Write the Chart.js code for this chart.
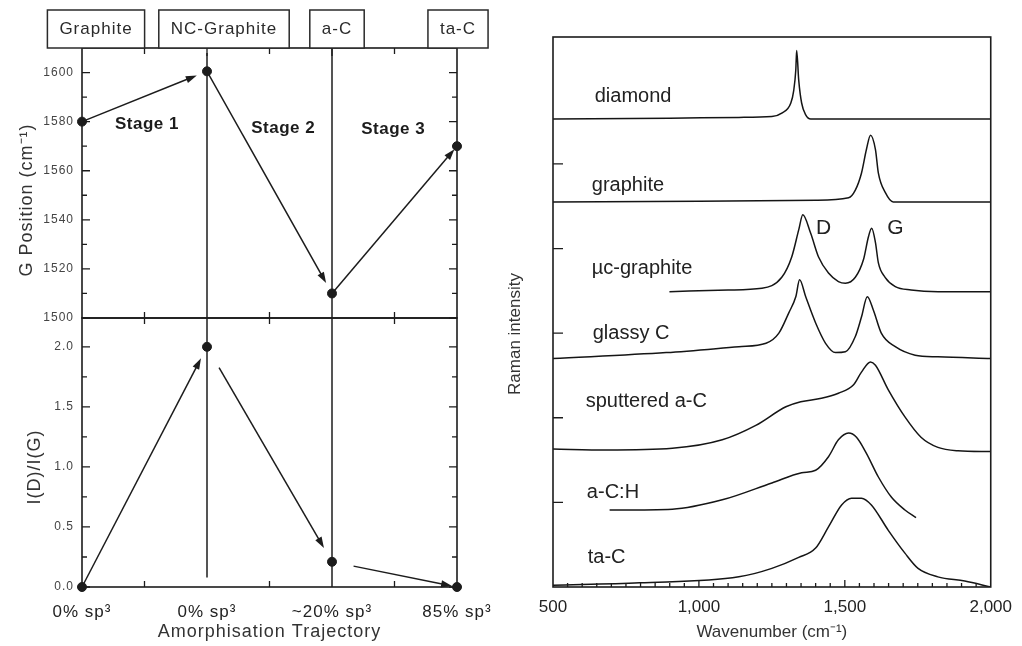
<!DOCTYPE html>
<html>
<head>
<meta charset="utf-8">
<script src="https://cdn.jsdelivr.net/npm/chart.js@4.4.1/dist/chart.umd.min.js"></script>
<style>
  html, body { margin: 0; padding: 0; background: #fff; }
  #wrap { position: relative; width: 1022px; height: 646px; overflow: hidden; }
  canvas { position: absolute; }
  #g-chart { left: 0; top: 0; }
  #ratio-chart { left: 0; top: 302px; }
  #raman-chart { left: 500px; top: 0; }
</style>
</head>
<body>
<div id="wrap">
  <canvas id="g-chart" width="512" height="334"></canvas>
  <canvas id="ratio-chart" width="512" height="344"></canvas>
  <canvas id="raman-chart" width="522" height="646"></canvas>
</div>
<script>
const FONT = "'Liberation Sans', Arial, sans-serif";
const INK = '#1c1c1c';

// --- amorphisation trajectory ---
const stageNames = ['Graphite', 'NC-Graphite', 'a-C', 'ta-C'];
const sp3Labels = ['0% sp³', '0% sp³', '~20% sp³', '85% sp³'];
const stagePos = [0, 1, 2, 3];
const gPosition = [1580, 1600.5, 1510, 1570];
const idIgRatio = [0, 2.0, 0.21, 0];
const stageTitles = ['Stage 1', 'Stage 2', 'Stage 3'];

// --- Raman spectra: [wavenumber, offset intensity] ---
const diamond = [[500, 5.53], [900, 5.54], [1137, 5.55], [1250, 5.56], [1284, 5.60], [1315, 5.72],
  [1325, 5.87], [1332, 6.11], [1335, 6.34], [1342, 5.99], [1352, 5.72], [1366, 5.58], [1383, 5.53], [2000, 5.53]];
const graphite = [[500, 4.55], [1000, 4.56], [1400, 4.57], [1513, 4.60], [1536, 4.69], [1557, 4.89],
  [1574, 5.17], [1588, 5.34], [1605, 5.17], [1615, 4.89], [1639, 4.66], [1666, 4.55], [2000, 4.55]];
const ucGraphite = [[899, 3.49], [1100, 3.51], [1216, 3.53], [1284, 3.66], [1318, 3.90], [1342, 4.22],
  [1356, 4.40], [1383, 4.18], [1410, 3.90], [1444, 3.71], [1478, 3.61], [1502, 3.59], [1536, 3.66],
  [1564, 3.87], [1581, 4.14], [1592, 4.24], [1605, 4.07], [1615, 3.83], [1638, 3.66], [1673, 3.55],
  [1727, 3.51], [1820, 3.49], [2000, 3.49]];
const glassyC = [[500, 2.70], [888, 2.77], [1137, 2.84], [1230, 2.88], [1274, 3.00], [1308, 3.24],
  [1332, 3.43], [1345, 3.63], [1366, 3.43], [1400, 3.12], [1434, 2.88], [1468, 2.77], [1502, 2.78],
  [1536, 2.96], [1557, 3.19], [1577, 3.43], [1598, 3.27], [1625, 3.00], [1673, 2.84], [1741, 2.74],
  [1819, 2.72], [2000, 2.70]];
const sputteredAC = [[500, 1.63], [684, 1.62], [909, 1.64], [1080, 1.74], [1195, 1.91], [1298, 2.13],
  [1349, 2.19], [1420, 2.23], [1478, 2.29], [1530, 2.39], [1557, 2.54], [1588, 2.66], [1605, 2.62],
  [1649, 2.33], [1706, 2.01], [1761, 1.77], [1819, 1.65], [1888, 1.61], [2000, 1.60]];
const acH = [[694, 0.91], [909, 0.92], [1080, 1.03], [1250, 1.23], [1352, 1.35], [1400, 1.38],
  [1444, 1.54], [1478, 1.74], [1513, 1.82], [1540, 1.77], [1574, 1.58], [1615, 1.30], [1660, 1.06],
  [1706, 0.91], [1744, 0.82]];
const taC = [[500, 0.02], [797, 0.05], [1137, 0.12], [1250, 0.22], [1342, 0.35], [1400, 0.46],
  [1444, 0.71], [1489, 0.97], [1523, 1.05], [1557, 1.05], [1591, 0.97], [1649, 0.67], [1706, 0.40],
  [1751, 0.22], [1819, 0.12], [1911, 0.07], [2000, 0.0]];

const spectra = [diamond, graphite, ucGraphite, glassyC, sputteredAC, acH, taC];
const sampleNames = ['diamond', 'graphite', 'µc-graphite', 'glassy C', 'sputtered a-C', 'a-C:H', 'ta-C'];
const wnTicks = [500, 1000, 1500, 2000];

// label anchors (data units) and arrow trims (px)
const nameAnchor = [[643, 5.80], [633, 4.75], [633, 3.77], [636, 3.00], [612, 2.19], [616, 1.12], [619, 0.35]];
const bandLabels = [['D', 1427, 4.24], ['G', 1673, 4.24]];
const boxShift = [14, 17, 5, 1];
const stageAnchor = [[0.52, 1579], [1.61, 1577.3], [2.49, 1576.8]];
const gArrows = [{ from: 0, to: 1, s: 0, e: 11 }, { from: 1, to: 2, s: 0, e: 12 }, { from: 2, to: 3, s: 0, e: 4 }];
const ratioArrows = [{ from: 0, to: 1, s: 0, e: 13 }, { from: 1, to: 2, s: 24, e: 16 }, { from: 2, to: 3, s: 22, e: 5 }];

const steps = (a, b, st) => { const out = []; for (let v = a; v <= b + 1e-9; v += st) out.push(+v.toFixed(4)); return out; };

function frame(chart, lw) {
  const { ctx, chartArea: a } = chart;
  ctx.save();
  ctx.strokeStyle = INK;
  ctx.lineWidth = lw;
  ctx.strokeRect(a.left, a.top, a.right - a.left, a.bottom - a.top);
  ctx.restore();
}

function innerTicks(chart, specs) {
  const { ctx, chartArea: a, scales } = chart;
  ctx.save();
  ctx.strokeStyle = INK;
  ctx.lineWidth = 1.3;
  ctx.beginPath();
  specs.forEach(s => s.values.forEach(v => {
    if (s.axis === 'x') {
      const px = scales.x.getPixelForValue(v);
      if (s.sides.includes('b')) { ctx.moveTo(px, a.bottom); ctx.lineTo(px, a.bottom - s.len); }
      if (s.sides.includes('t')) { ctx.moveTo(px, a.top); ctx.lineTo(px, a.top + s.len); }
    } else {
      const py = scales.y.getPixelForValue(v);
      if (s.sides.includes('l')) { ctx.moveTo(a.left, py); ctx.lineTo(a.left + s.len, py); }
      if (s.sides.includes('r')) { ctx.moveTo(a.right, py); ctx.lineTo(a.right - s.len, py); }
    }
  }));
  ctx.stroke();
  ctx.restore();
}

function arrow(ctx, x1, y1, x2, y2, head) {
  const ang = Math.atan2(y2 - y1, x2 - x1);
  const c = Math.cos(ang), s = Math.sin(ang);
  ctx.beginPath();
  ctx.moveTo(x1, y1);
  ctx.lineTo(x2 - c * head * 0.7, y2 - s * head * 0.7);
  ctx.stroke();
  ctx.beginPath();
  ctx.moveTo(x2, y2);
  ctx.lineTo(x2 - head * c + head * 0.33 * s, y2 - head * s - head * 0.33 * c);
  ctx.lineTo(x2 - head * c - head * 0.33 * s, y2 - head * s + head * 0.33 * c);
  ctx.closePath();
  ctx.fill();
}

function trajectory(chart, values, specs) {
  const { ctx, scales: { x, y } } = chart;
  const pts = stagePos.map((p, i) => [x.getPixelForValue(p), y.getPixelForValue(values[i])]);
  ctx.save();
  ctx.strokeStyle = INK;
  ctx.fillStyle = INK;
  ctx.lineWidth = 1.5;
  specs.forEach(sp => {
    const [ax, ay] = pts[sp.from], [bx, by] = pts[sp.to];
    const len = Math.hypot(bx - ax, by - ay);
    const ux = (bx - ax) / len, uy = (by - ay) / len;
    arrow(ctx, ax + ux * sp.s, ay + uy * sp.s, bx - ux * sp.e, by - uy * sp.e, 11);
  });
  ctx.restore();
}

function vLine(chart, xv, y0, y1) {
  const { ctx, scales: { x, y } } = chart;
  const px = x.getPixelForValue(xv);
  ctx.save();
  ctx.strokeStyle = INK;
  ctx.lineWidth = 1.5;
  ctx.beginPath();
  ctx.moveTo(px, y.getPixelForValue(y0));
  ctx.lineTo(px, y.getPixelForValue(y1));
  ctx.stroke();
  ctx.restore();
}

function text(ctx, str, x, y, font, opts = {}) {
  ctx.save();
  ctx.font = font;
  ctx.fillStyle = opts.color || INK;
  ctx.textAlign = opts.align || 'center';
  ctx.textBaseline = 'middle';
  if (opts.spacing) ctx.letterSpacing = opts.spacing;
  ctx.translate(x, y);
  if (opts.rotate) ctx.rotate(opts.rotate);
  ctx.fillText(str, 0, 0);
  ctx.restore();
}

const spaced = {
  id: 'spaced',
  beforeUpdate(chart) { chart.ctx.letterSpacing = '1px'; },
  beforeDraw(chart) { chart.ctx.letterSpacing = '1px'; }
};

const pointSet = values => ({
  data: stagePos.map((p, i) => ({ x: p, y: values[i] })),
  showLine: false,
  pointRadius: 4.5,
  pointBackgroundColor: INK,
  pointBorderColor: INK,
  clip: false
});

const leftY = (min, max, step, fmt) => ({
  min, max,
  afterFit: s => { s.width = 82; },
  grid: { display: false, drawTicks: false },
  border: { display: false },
  ticks: {
    stepSize: step, includeBounds: false, padding: 8, color: '#444',
    font: { family: FONT, size: 12 },
    callback: fmt
  }
});

// G position panel
new Chart(document.getElementById('g-chart'), {
  type: 'scatter',
  data: { datasets: [pointSet(gPosition)] },
  plugins: [spaced, {
    id: 'gDecor',
    beforeDatasetsDraw(chart) {
      vLine(chart, 1, 1608, 1500);
      vLine(chart, 2, 1610, 1500);
      innerTicks(chart, [
        { axis: 'y', values: steps(1500, 1600, 20), len: 8, sides: 'lr' },
        { axis: 'y', values: steps(1510, 1590, 20), len: 5, sides: 'lr' },
        { axis: 'x', values: [0.5, 1.5, 2.5], len: 6, sides: 'tb' },
        { axis: 'x', values: [1, 2], len: 8, sides: 't' }
      ]);
      frame(chart, 1.6);
      trajectory(chart, gPosition, gArrows);
    },
    afterDraw(chart) {
      const { ctx, chartArea: a, scales: { x, y } } = chart;
      ctx.save();
      ctx.font = `17px ${FONT}`;
      ctx.letterSpacing = '1px';
      stageNames.forEach((name, i) => {
        const cx = x.getPixelForValue(stagePos[i]) + boxShift[i];
        const w = ctx.measureText(name).width + 24;
        ctx.fillStyle = '#fff';
        ctx.fillRect(cx - w / 2, 10, w, a.top - 10);
        ctx.strokeStyle = '#2a2a2a';
        ctx.lineWidth = 1.5;
        ctx.strokeRect(cx - w / 2, 10, w, a.top - 10);
        text(ctx, name, cx, 29, `17px ${FONT}`, { spacing: '1px', color: '#2a2a2a' });
      });
      ctx.restore();
      stageTitles.forEach((t, i) => {
        text(ctx, t, x.getPixelForValue(stageAnchor[i][0]), y.getPixelForValue(stageAnchor[i][1]),
          `bold 17px ${FONT}`, { spacing: '0.5px' });
      });
      text(ctx, 'G Position (cm⁻¹)', 27, 200, `18px ${FONT}`, { spacing: '1px', rotate: -Math.PI / 2, color: '#333' });
    }
  }],
  options: {
    responsive: false,
    animation: false,
    layout: { padding: { top: 48, right: 55, bottom: 16, left: 0 } },
    plugins: { legend: { display: false }, tooltip: { enabled: false } },
    scales: {
      x: { type: 'linear', min: 0, max: 3, display: false },
      y: leftY(1500, 1610, 20, v => String(v))
    }
  }
});

// I(D)/I(G) panel
new Chart(document.getElementById('ratio-chart'), {
  type: 'scatter',
  data: { datasets: [pointSet(idIgRatio)] },
  plugins: [spaced, {
    id: 'ratioDecor',
    beforeDatasetsDraw(chart) {
      vLine(chart, 1, 2.24, 0.08);
      vLine(chart, 2, 2.24, 0);
      innerTicks(chart, [
        { axis: 'y', values: steps(0, 2, 0.5), len: 8, sides: 'lr' },
        { axis: 'y', values: steps(0.25, 2, 0.5), len: 5, sides: 'lr' },
        { axis: 'x', values: [0.5, 1.5, 2.5], len: 6, sides: 'tb' }
      ]);
      frame(chart, 1.6);
      trajectory(chart, idIgRatio, ratioArrows);
    },
    afterDraw(chart) {
      const { ctx, chartArea: a } = chart;
      text(ctx, 'I(D)/I(G)', 35, 165, `18px ${FONT}`, { spacing: '1px', rotate: -Math.PI / 2, color: '#333' });
      text(ctx, 'Amorphisation Trajectory', (a.left + a.right) / 2, 330, `18px ${FONT}`, { spacing: '1px', color: '#333' });
    }
  }],
  options: {
    responsive: false,
    animation: false,
    layout: { padding: { top: 16, right: 55, bottom: 3, left: 0 } },
    plugins: { legend: { display: false }, tooltip: { enabled: false } },
    scales: {
      x: {
        type: 'linear', min: 0, max: 3,
        afterFit: s => { s.height = 56; },
        grid: { display: false, drawTicks: false },
        border: { display: false },
        ticks: {
          stepSize: 1, padding: 15, autoSkip: false, maxRotation: 0, color: '#222',
          font: { family: FONT, size: 17 },
          callback: v => sp3Labels[v] ?? ''
        }
      },
      y: leftY(0, 2.24, 0.5, v => v.toFixed(1))
    }
  }
});

// Raman spectra panel
new Chart(document.getElementById('raman-chart'), {
  type: 'line',
  data: {
    datasets: spectra.map((s, i) => ({
      label: sampleNames[i],
      data: s.map(([x, y]) => ({ x, y })),
      borderColor: '#151515',
      borderWidth: 1.5,
      pointRadius: 0,
      fill: false,
      cubicInterpolationMode: 'monotone'
    }))
  },
  plugins: [{
    id: 'ramanDecor',
    afterDatasetsDraw(chart) {
      frame(chart, 1.6);
      innerTicks(chart, [
        { axis: 'x', values: steps(550, 1950, 50).filter(v => v % 500), len: 4, sides: 'b' },
        { axis: 'x', values: [1000, 1500], len: 7, sides: 'b' },
        { axis: 'y', values: [1, 2, 3, 4, 5], len: 10, sides: 'l' }
      ]);
    },
    afterDraw(chart) {
      const { ctx, scales: { x, y } } = chart;
      sampleNames.forEach((n, i) => {
        text(ctx, n, x.getPixelForValue(nameAnchor[i][0]), y.getPixelForValue(nameAnchor[i][1]),
          `20px ${FONT}`, { align: 'left', color: '#222' });
      });
      bandLabels.forEach(([t, wx, wy]) => {
        text(ctx, t, x.getPixelForValue(wx), y.getPixelForValue(wy), `21px ${FONT}`, { color: '#222' });
      });
      text(ctx, 'Raman intensity', 15, 334, `17px ${FONT}`, { rotate: -Math.PI / 2, color: '#333' });
    }
  }],
  options: {
    responsive: false,
    animation: false,
    layout: { padding: { top: 37, right: 29, bottom: 3, left: 0 } },
    plugins: { legend: { display: false }, tooltip: { enabled: false } },
    scales: {
      x: {
        type: 'linear', min: 500, max: 2000,
        afterFit: s => { s.height = 56; },
        grid: { display: false, drawTicks: false },
        border: { display: false },
        afterBuildTicks: s => { s.ticks = wnTicks.map(v => ({ value: v })); },
        ticks: {
          padding: 10, maxRotation: 0, autoSkip: false, color: '#222',
          font: { family: FONT, size: 17 },
          callback: v => v.toLocaleString('en-US')
        },
        title: {
          display: true, text: 'Wavenumber (cm⁻¹)', color: '#333',
          font: { family: FONT, size: 17 }, padding: 0
        }
      },
      y: {
        min: 0, max: 6.5,
        afterFit: s => { s.width = 53; },
        grid: { display: false, drawTicks: false },
        border: { display: false },
        ticks: { display: false }
      }
    }
  }
});
</script>
</body>
</html>
